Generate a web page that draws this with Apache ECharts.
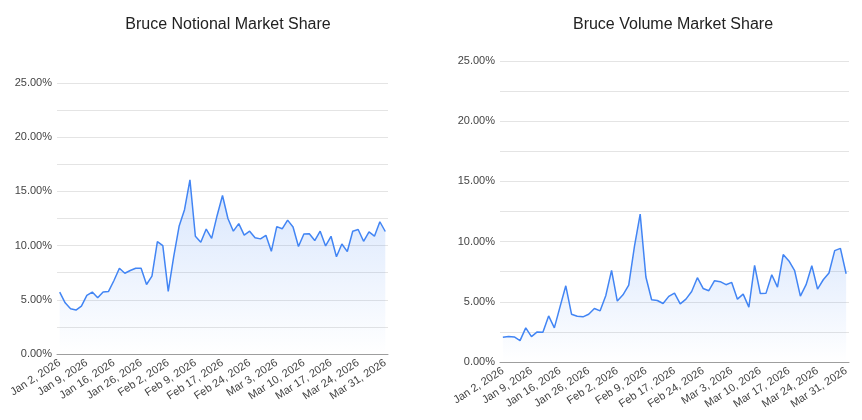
<!DOCTYPE html>
<html>
<head>
<meta charset="utf-8">
<script src="https://cdn.jsdelivr.net/npm/echarts@6/dist/echarts.min.js"></script>
<style>
  html, body { margin: 0; padding: 0; background: #fff; }
  #chart { width: 862px; height: 420px; }
</style>
</head>
<body>
<div id="chart"></div>
<script>
// trading days Jan 2 - Mar 31, 2026
var days = [
    'Jan 2, 2026', 'Jan 5, 2026', 'Jan 6, 2026', 'Jan 7, 2026', 'Jan 8, 2026', 'Jan 9, 2026',
    'Jan 12, 2026', 'Jan 13, 2026', 'Jan 14, 2026', 'Jan 15, 2026', 'Jan 16, 2026',
    'Jan 20, 2026', 'Jan 21, 2026', 'Jan 22, 2026', 'Jan 23, 2026',
    'Jan 26, 2026', 'Jan 27, 2026', 'Jan 28, 2026', 'Jan 29, 2026', 'Jan 30, 2026',
    'Feb 2, 2026', 'Feb 3, 2026', 'Feb 4, 2026', 'Feb 5, 2026', 'Feb 6, 2026',
    'Feb 9, 2026', 'Feb 10, 2026', 'Feb 11, 2026', 'Feb 12, 2026', 'Feb 13, 2026',
    'Feb 17, 2026', 'Feb 18, 2026', 'Feb 19, 2026', 'Feb 20, 2026',
    'Feb 23, 2026', 'Feb 24, 2026', 'Feb 25, 2026', 'Feb 26, 2026', 'Feb 27, 2026',
    'Mar 2, 2026', 'Mar 3, 2026', 'Mar 4, 2026', 'Mar 5, 2026', 'Mar 6, 2026',
    'Mar 9, 2026', 'Mar 10, 2026', 'Mar 11, 2026', 'Mar 12, 2026', 'Mar 13, 2026',
    'Mar 16, 2026', 'Mar 17, 2026', 'Mar 18, 2026', 'Mar 19, 2026', 'Mar 20, 2026',
    'Mar 23, 2026', 'Mar 24, 2026', 'Mar 25, 2026', 'Mar 26, 2026', 'Mar 27, 2026',
    'Mar 30, 2026', 'Mar 31, 2026'
];

// notional market share, percent
var notionalShare = [
    5.71, 4.72, 4.17, 4.05, 4.42, 5.40, 5.71, 5.18, 5.71, 5.77,
    6.78, 7.91, 7.45, 7.70, 7.91, 7.91, 6.41, 7.18, 10.37, 10.00,
    5.77, 8.96, 11.78, 13.31, 16.07, 10.86, 10.31, 11.53, 10.67, 12.76,
    14.62, 12.50, 11.33, 12.03, 10.97, 11.33, 10.72, 10.62, 10.95, 9.47,
    11.75, 11.55, 12.35, 11.72, 9.92, 11.07, 11.10, 10.47, 11.33, 9.97,
    10.86, 8.97, 10.15, 9.45, 11.33, 11.48, 10.40, 11.26, 10.87, 12.20,
    11.30
];

// volume market share, percent
var volumeShare = [
    2.06, 2.11, 2.08, 1.78, 2.83, 2.11, 2.50, 2.47, 3.83, 2.83,
    4.60, 6.33, 3.97, 3.80, 3.75, 3.97, 4.44, 4.25, 5.53, 7.61,
    5.06, 5.58, 6.39, 9.61, 12.28, 7.06, 5.17, 5.11, 4.86, 5.45,
    5.72, 4.83, 5.22, 5.86, 7.00, 6.11, 5.92, 6.75, 6.67, 6.42,
    6.61, 5.22, 5.64, 4.56, 8.03, 5.69, 5.72, 7.25, 6.22, 8.92,
    8.39, 7.58, 5.47, 6.42, 8.00, 6.06, 6.83, 7.39, 9.25, 9.44,
    7.33
];

var titles = ['Bruce Notional Market Share', 'Bruce Volume Market Share'];

var blue = '#4285f4';
var gridColor = '#e4e4e4';
var labelColor = '#444';
var fontFamily = 'Arial, "Liberation Sans", sans-serif';

var makeX = function (idx) {
    return {
        type: 'category',
        gridIndex: idx,
        data: days,
        boundaryGap: true,
        axisTick: { show: false },
        axisLine: { show: true, lineStyle: { color: '#9e9e9e', width: 1 } },
        axisLabel: {
            interval: 4,
            rotate: 33,
            color: labelColor,
            fontSize: 11,
            fontFamily: fontFamily,
            margin: 8
        }
    };
};

var makeY = function (idx) {
    return {
        type: 'value',
        gridIndex: idx,
        min: 0,
        max: 25,
        interval: 5,
        axisLine: { show: false },
        axisTick: { show: false },
        axisLabel: {
            color: labelColor,
            fontSize: 11,
            fontFamily: fontFamily,
            margin: 5,
            formatter: function (v) { return v.toFixed(2) + '%'; }
        },
        splitLine: { show: true, lineStyle: { color: gridColor, width: 1 } },
        minorTick: { show: false, splitNumber: 2 },
        minorSplitLine: { show: true, lineStyle: { color: gridColor, width: 1 } }
    };
};

var makeSeries = function (idx, values) {
    return {
        type: 'line',
        xAxisIndex: idx,
        yAxisIndex: idx,
        data: values,
        symbol: 'none',
        lineStyle: { color: blue, width: 1.5 },
        itemStyle: { color: blue },
        areaStyle: {
            color: new echarts.graphic.LinearGradient(0, 0, 0, 1, [
                { offset: 0, color: 'rgba(66,133,244,0.3)' },
                { offset: 1, color: 'rgba(66,133,244,0.0)' }
            ])
        }
    };
};

var chart = echarts.init(document.getElementById('chart'));
chart.setOption({
    animation: false,
    backgroundColor: '#fff',
    title: [
        { text: titles[0], left: 223, top: 12, textAlign: 'center',
          textStyle: { fontSize: 16, fontWeight: 'normal', color: '#222', fontFamily: fontFamily } },
        { text: titles[1], left: 668, top: 12, textAlign: 'center',
          textStyle: { fontSize: 16, fontWeight: 'normal', color: '#222', fontFamily: fontFamily } }
    ],
    grid: [
        { left: 57, top: 83, width: 331, height: 271, containLabel: false },
        { left: 500, top: 61, width: 349, height: 301, containLabel: false }
    ],
    xAxis: [makeX(0), makeX(1)],
    yAxis: [makeY(0), makeY(1)],
    series: [makeSeries(0, notionalShare), makeSeries(1, volumeShare)]
});
</script>
</body>
</html>
